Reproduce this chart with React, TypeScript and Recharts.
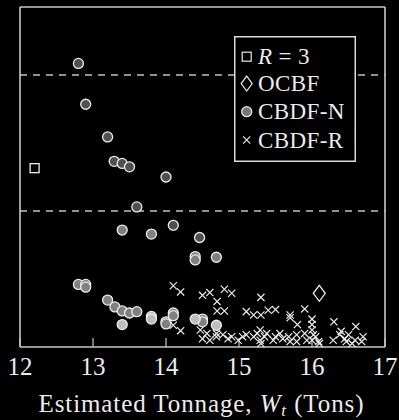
import React from 'react';
import { ScatterChart, Scatter, XAxis, YAxis, ReferenceLine } from 'recharts';

const xTicks = [12, 13, 14, 15, 16, 17];
const yTicks = [0, 1, 3, 5];
const dashedLevels = [2, 4];
const legendLabels = ['OCBF', 'CBDF-N', 'CBDF-R'];

const r3Points = [{ x: 12.2, y: 2.63 }];
const ocbfPoints = [{ x: 16.1, y: 0.79 }];

const cbdfNDark = [
  { x: 12.8, y: 4.17 }, { x: 12.9, y: 3.57 }, { x: 13.2, y: 3.09 },
  { x: 13.29, y: 2.73 }, { x: 13.4, y: 2.7 }, { x: 13.5, y: 2.65 },
  { x: 14.0, y: 2.5 }, { x: 13.6, y: 2.06 }, { x: 14.1, y: 1.79 },
  { x: 14.46, y: 1.61 },
];
const cbdfNMid = [
  { x: 13.4, y: 1.72 }, { x: 13.8, y: 1.66 }, { x: 14.69, y: 1.32 },
  { x: 14.4, y: 1.33 }, { x: 14.4, y: 1.28 },
  { x: 12.8, y: 0.92 }, { x: 12.9, y: 0.92 }, { x: 12.9, y: 0.88 },
  { x: 13.2, y: 0.69 }, { x: 13.3, y: 0.59 }, { x: 13.4, y: 0.53 },
  { x: 13.5, y: 0.5 }, { x: 13.6, y: 0.52 },
  { x: 14.0, y: 0.37 }, { x: 14.0, y: 0.34 },
  { x: 14.1, y: 0.5 }, { x: 14.1, y: 0.46 },
  { x: 14.5, y: 0.41 }, { x: 14.5, y: 0.37 },
];
const cbdfNLight = [
  { x: 13.4, y: 0.33 }, { x: 13.8, y: 0.45 }, { x: 13.8, y: 0.41 },
  { x: 14.4, y: 0.41 }, { x: 14.69, y: 0.32 },
];

const cbdfRPoints = [
  { x: 14.1, y: 0.9 }, { x: 14.2, y: 0.81 }, { x: 14.5, y: 0.76 }, { x: 14.6, y: 0.8 },
  { x: 14.8, y: 0.85 }, { x: 14.9, y: 0.79 }, { x: 14.7, y: 0.67 }, { x: 14.7, y: 0.53 },
  { x: 14.8, y: 0.53 }, { x: 15.1, y: 0.52 }, { x: 15.2, y: 0.47 }, { x: 15.3, y: 0.47 },
  { x: 15.4, y: 0.54 }, { x: 15.5, y: 0.55 }, { x: 15.3, y: 0.73 }, { x: 15.7, y: 0.47 },
  { x: 15.7, y: 0.43 }, { x: 15.9, y: 0.56 }, { x: 15.8, y: 0.33 }, { x: 16.0, y: 0.41 },
  { x: 16.0, y: 0.33 }, { x: 16.0, y: 0.25 }, { x: 16.3, y: 0.37 }, { x: 16.6, y: 0.3 },
  { x: 14.1, y: 0.32 }, { x: 14.2, y: 0.24 },
  { x: 14.47, y: 0.25 }, { x: 14.56, y: 0.2 }, { x: 14.69, y: 0.15 }, { x: 14.69, y: 0.2 },
  { x: 14.78, y: 0.18 }, { x: 14.9, y: 0.15 }, { x: 14.99, y: 0.1 }, { x: 15.1, y: 0.18 },
  { x: 15.2, y: 0.15 }, { x: 15.29, y: 0.25 }, { x: 15.29, y: 0.1 }, { x: 15.38, y: 0.2 },
  { x: 15.47, y: 0.1 }, { x: 15.56, y: 0.2 }, { x: 15.68, y: 0.15 }, { x: 15.79, y: 0.18 },
  { x: 15.79, y: 0.08 }, { x: 15.93, y: 0.1 }, { x: 16.02, y: 0.18 }, { x: 16.09, y: 0.08 },
  { x: 16.29, y: 0.1 }, { x: 16.38, y: 0.18 }, { x: 16.47, y: 0.08 }, { x: 16.59, y: 0.1 },
  { x: 16.7, y: 0.15 }, { x: 16.68, y: 0.08 },
  { x: 14.5, y: 0.12 }, { x: 14.6, y: 0.1 }, { x: 15.3, y: 0.05 }, { x: 15.35, y: 0.15 },
  { x: 15.5, y: 0.15 }, { x: 15.7, y: 0.08 }, { x: 16.0, y: 0.1 }, { x: 16.1, y: 0.05 },
  { x: 16.4, y: 0.23 }, { x: 16.45, y: 0.12 }, { x: 16.5, y: 0.18 }, { x: 16.55, y: 0.05 },
  { x: 15.05, y: 0.15 }, { x: 15.25, y: 0.2 }, { x: 15.6, y: 0.12 }, { x: 14.85, y: 0.12 },
  { x: 15.9, y: 0.2 }, { x: 16.05, y: 0.15 },
];

const FG = '#ececec';
const FRAME = '#c8c8c8';
const SERIF = '"Liberation Serif", "DejaVu Serif", serif';

const circleShape = (fill: string) => (props: any) => (
  <circle cx={props.cx} cy={props.cy} r={5} fill={fill} stroke={FG} strokeWidth={1.3} />
);
const crossShape = (props: any) => {
  const { cx, cy } = props;
  const h = 3.6;
  return (
    <path
      d={`M${cx - h},${cy - h}L${cx + h},${cy + h}M${cx + h},${cy - h}L${cx - h},${cy + h}`}
      stroke={FG}
      strokeWidth={1.2}
      fill="none"
    />
  );
};
const squareShape = (props: any) => (
  <rect x={props.cx - 4.5} y={props.cy - 4.5} width={9} height={9} fill="none" stroke={FG} strokeWidth={1.3} />
);
const diamondShape = (props: any) => {
  const { cx, cy } = props;
  return (
    <polygon
      points={`${cx},${cy - 8} ${cx + 6},${cy} ${cx},${cy + 8} ${cx - 6},${cy}`}
      fill="none"
      stroke={FG}
      strokeWidth={1.3}
    />
  );
};

function LegendBox() {
  const rows = [20.7, 47.6, 75.7, 104];
  const mx = 12.7;
  const tx = 24;
  return (
    <svg
      width={122}
      height={126}
      style={{ position: 'absolute', left: 234, top: 36 }}
    >
      <rect x={0.75} y={0.75} width={120.5} height={124.5} fill="#000" stroke="#dcdcdc" strokeWidth={1.5} />
      <rect x={mx - 4.5} y={rows[0] - 4.5} width={9} height={9} fill="none" stroke={FG} strokeWidth={1.2} />
      <polygon
        points={`${mx},${rows[1] - 7.5} ${mx + 5.5},${rows[1]} ${mx},${rows[1] + 7.5} ${mx - 5.5},${rows[1]}`}
        fill="none"
        stroke={FG}
        strokeWidth={1.2}
      />
      <circle cx={mx} cy={rows[2]} r={5} fill="#777" stroke={FG} strokeWidth={1.3} />
      <path
        d={`M${mx - 3.6},${rows[3] - 3.6}L${mx + 3.6},${rows[3] + 3.6}M${mx + 3.6},${rows[3] - 3.6}L${mx - 3.6},${rows[3] + 3.6}`}
        stroke={FG}
        strokeWidth={1.2}
      />
      <text x={tx} y={rows[0] + 7.5} fill={FG} fontSize={23} fontFamily={SERIF} letterSpacing={0.4}>
        <tspan fontStyle="italic">R</tspan>
        <tspan>{' = 3'}</tspan>
      </text>
      {legendLabels.map((l, i) => (
        <text key={l} x={tx} y={rows[i + 1] + 7.5} fill={FG} fontSize={23} fontFamily={SERIF} letterSpacing={0.4}>
          {l}
        </text>
      ))}
    </svg>
  );
}

export default function App() {
  return (
    <div style={{ position: 'absolute', left: 0, top: 0, width: 399, height: 420, background: '#000', overflow: 'hidden' }}>
      <ScatterChart width={399} height={420} margin={{ top: 6, right: 13, bottom: 0, left: 19 }}>
        <XAxis
          xAxisId="b"
          dataKey="x"
          type="number"
          domain={[12, 17]}
          ticks={xTicks}
          interval={0}
          height={73}
          tickSize={-9}
          tickMargin={19}
          axisLine={{ stroke: FRAME, strokeWidth: 1.6 }}
          tickLine={{ stroke: FRAME, strokeWidth: 1.2 }}
          tick={{ fill: FG, fontSize: 25, fontFamily: SERIF }}
        />
        <XAxis
          xAxisId="t"
          orientation="top"
          type="number"
          domain={[12, 17]}
          ticks={xTicks}
          interval={0}
          height={1}
          tickSize={-9}
          tick={false}
          axisLine={{ stroke: FRAME, strokeWidth: 1.6 }}
          tickLine={{ stroke: FRAME, strokeWidth: 1.2 }}
        />
        <YAxis
          yAxisId="l"
          dataKey="y"
          type="number"
          domain={[0, 5]}
          ticks={yTicks}
          interval={0}
          width={1}
          tickSize={-9}
          tick={false}
          axisLine={{ stroke: FRAME, strokeWidth: 1.6 }}
          tickLine={{ stroke: FRAME, strokeWidth: 1.2 }}
        />
        <YAxis
          yAxisId="r"
          orientation="right"
          type="number"
          domain={[0, 5]}
          ticks={yTicks}
          interval={0}
          width={1}
          tickSize={-9}
          tick={false}
          axisLine={{ stroke: FRAME, strokeWidth: 1.6 }}
          tickLine={{ stroke: FRAME, strokeWidth: 1.2 }}
        />
        {dashedLevels.map((v) => (
          <ReferenceLine
            key={v}
            xAxisId="b"
            yAxisId="l"
            y={v}
            stroke="#c0c0c0"
            strokeWidth={1.3}
            strokeDasharray="7 6"
          />
        ))}
        <Scatter xAxisId="b" yAxisId="l" name="R = 3" data={r3Points} shape={squareShape} isAnimationActive={false} />
        <Scatter xAxisId="b" yAxisId="l" name="OCBF" data={ocbfPoints} shape={diamondShape} isAnimationActive={false} />
        <Scatter xAxisId="b" yAxisId="l" name="CBDF-N" data={cbdfNDark} shape={circleShape('#505050')} isAnimationActive={false} />
        <Scatter xAxisId="b" yAxisId="l" name="CBDF-N" data={cbdfNMid} shape={circleShape('#808080')} isAnimationActive={false} />
        <Scatter xAxisId="b" yAxisId="l" name="CBDF-N" data={cbdfNLight} shape={circleShape('#bdbdbd')} isAnimationActive={false} />
        <Scatter xAxisId="b" yAxisId="l" name="CBDF-R" data={cbdfRPoints} shape={crossShape} isAnimationActive={false} />
      </ScatterChart>
      <LegendBox />
      <div
        style={{
          position: 'absolute',
          left: 0,
          top: 391,
          width: 403,
          textAlign: 'center',
          fontFamily: SERIF,
          fontSize: 25,
          lineHeight: '25px',
          letterSpacing: '0.9px',
          color: FG,
          whiteSpace: 'nowrap',
        }}
      >
        Estimated Tonnage, <i>W</i>
        <i style={{ fontSize: 17, position: 'relative', top: 4 }}>t</i> (Tons)
      </div>
    </div>
  );
}
